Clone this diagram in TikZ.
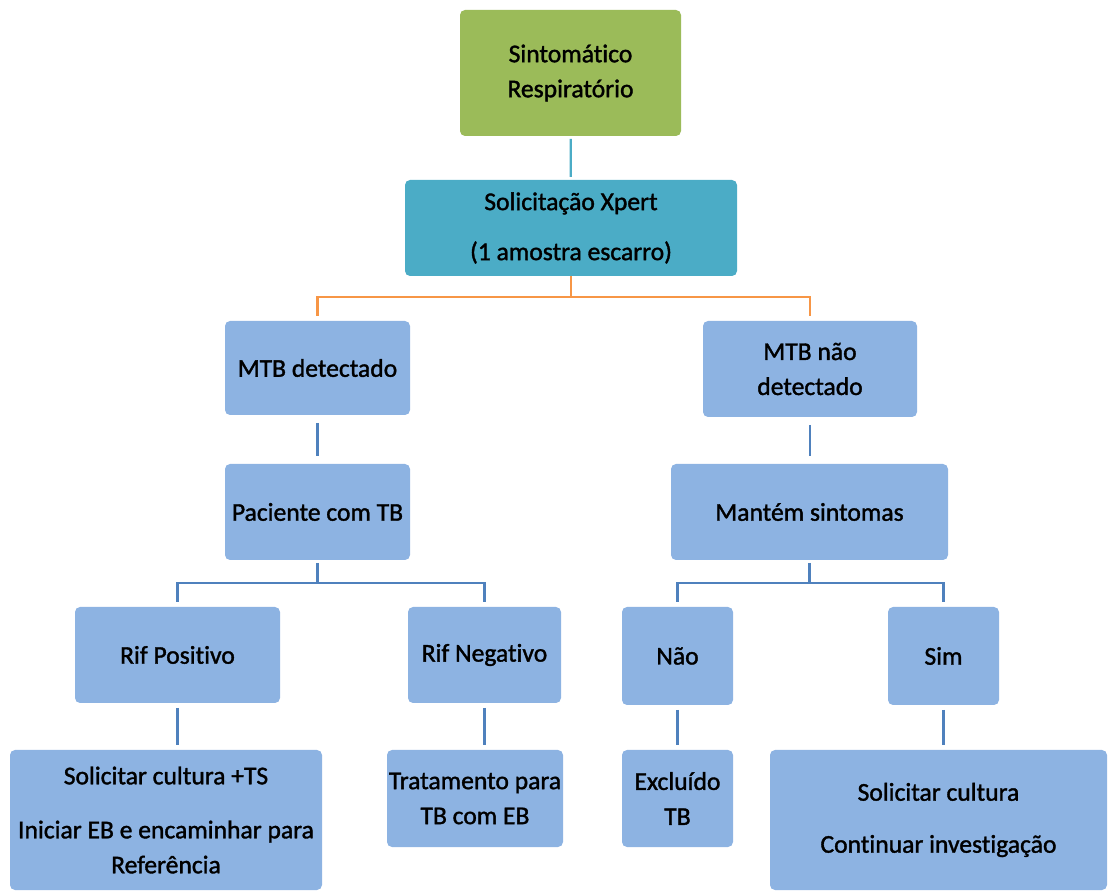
\documentclass[tikz,border=0pt]{standalone}
\usepackage{fontspec}
\setmainfont{Carlito}[Ligatures=NoCommon, FakeBold=1.4]
\usepackage{tikz}
\usetikzlibrary{calc,positioning}
\definecolor{boxgreen}{HTML}{9BBB59}
\definecolor{boxteal}{HTML}{4BACC6}
\definecolor{boxblue}{HTML}{8DB3E2}
\definecolor{wireblue}{HTML}{4F81BD}
\definecolor{wireorange}{HTML}{F79646}
\tikzset{
	flow chart/.style={
		x=.5pt, y=-.5pt,
		font=\fontsize{12.8}{17.5}\selectfont,
		every node/.style={align=center, inner sep=0pt, outer sep=0pt},
		wire/.style={line width=1.1pt, draw=wireblue},
		},
	fbox/.style 2 args={draw=none, rounded corners=2.5pt, fill=boxblue,
		minimum width=#1*.5pt, minimum height=#2*.5pt},
	gap/.style={shorten <=#1, shorten >=#1},
}

\begin{document}
\begin{tikzpicture}[flow chart]
   \useasboundingbox (0,0) rectangle (1109,892);
   % levels
   \node[fbox={221}{126}, fill=boxgreen] (symp) at (570.5,73) {Sintomático\\Respiratório};
   \node[fbox={332}{96}, fill=boxteal] (xpert) at (571,228) {Solicitação Xpert\\[7.5pt](1 amostra escarro)};
   \node[fbox={185}{94}] (mtbA) at (317.5,368) {MTB detectado};
   \node[fbox={214}{96}] (mtbB) at (810,369) {MTB não\\detectado};
   \node[fbox={185}{96}] (tb) at (317.5,512) {Paciente com TB};
   \node[fbox={277}{96}] (sint) at (809.5,512) {Mantém sintomas};
   \node[fbox={205}{96}] (rifA) at (177.5,655) {Rif Positivo};
   \node[fbox={153}{96}] (rifB) at (484.5,655) {Rif Negativo};
   \node[fbox={111}{98}] (nao) at (677.5,656) {Não};
   \node[fbox={111}{98}] (sim) at (943.5,656) {Sim};
   \node[fbox={312}{140}] (cultA) at (166,820) {Solicitar cultura +TS\\[9.5pt]Iniciar EB e encaminhar para\\Referência};
   \node[fbox={176}{97}] (trat) at (475,798.5) {Tratamento para\\TB com EB};
   \node[fbox={111}{97}] (excl) at (677.5,798.5) {Excluído\\TB};
   \node[fbox={337}{140}] (cultB) at (938.5,820) {Solicitar cultura\\[8.5pt]Continuar investigação};
   % forks
   \coordinate (forkX) at ($(xpert.south)+(0,21)$);
   \coordinate (forkT) at ($(tb.south)+(0,23)$);
   \coordinate (forkS) at ($(sint.south)+(0,23)$);
   % connectors
   \draw[wire, draw=boxteal, gap=1.5pt] (symp) -- (xpert);
   \draw[wire, draw=wireorange] (xpert) -- (forkX);
   \draw[wire, draw=wireorange, shorten >=2.5pt] (forkX) -| (mtbA.north);
   \draw[wire, draw=wireorange, shorten >=2.5pt] (forkX) -| (mtbB.north);
   \draw[wire, gap=4pt] (mtbA) -- (tb);
   \draw[wire, gap=4pt] (mtbB) -- (mtbB |- sint.north);
   \draw[wire, shorten <=1.5pt] (tb) -- (forkT);
   \draw[wire, shorten >=2.5pt] (forkT) -| (rifA.north);
   \draw[wire, shorten >=2.5pt] (forkT) -| (rifB.north);
   \draw[wire, shorten <=1.5pt] (sint.south -| forkS) -- (forkS);
   \draw[wire, shorten >=2.5pt] (forkS) -| (nao.north);
   \draw[wire, shorten >=2.5pt] (forkS) -| (sim.north);
   \draw[wire, gap=2.5pt] (rifA.south) -- (rifA.south |- cultA.north);
   \draw[wire, gap=2.5pt] (rifB.south) -- (rifB.south |- trat.north);
   \draw[wire, gap=2.5pt] (nao) -- (excl);
   \draw[wire, gap=2.5pt] (sim.south) -- (sim.south |- cultB.north);
\end{tikzpicture}
\end{document}
